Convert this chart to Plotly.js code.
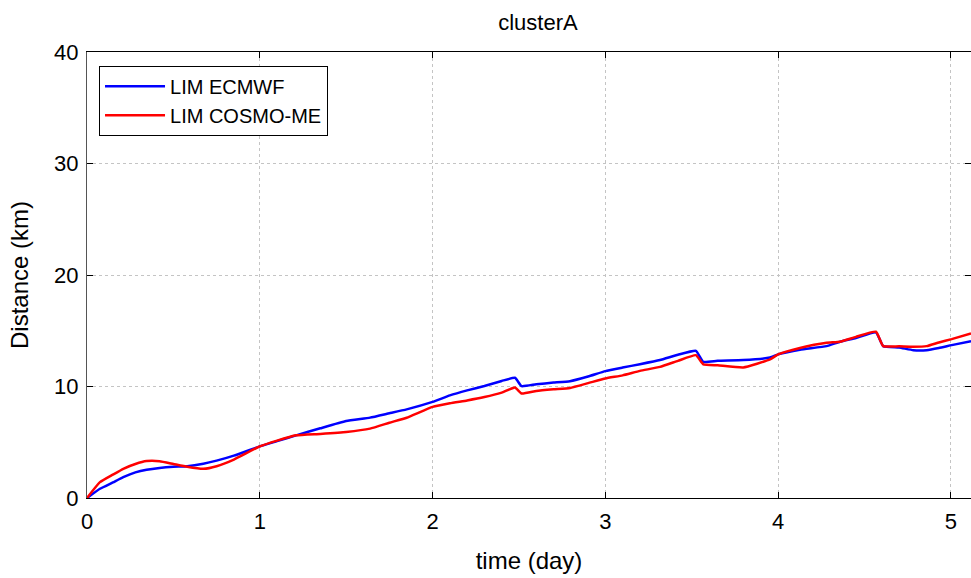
<!DOCTYPE html>
<html>
<head>
<meta charset="utf-8">
<script src="https://cdn.plot.ly/plotly-3.0.1.min.js"></script>
<style>html,body{margin:0;padding:0;background:#fff;}#chart{width:971px;height:578px;}</style>
</head>
<body>
<div id="chart"></div>
<script>
const timeDays = [0, 0.075, 0.15, 0.21, 0.28, 0.345, 0.42, 0.5, 0.58, 0.673, 0.75, 0.85, 1.0, 1.1, 1.21, 1.35, 1.5, 1.638, 1.75, 1.85, 2.0, 2.1, 2.2, 2.3, 2.4, 2.477, 2.515, 2.6, 2.7, 2.795, 2.9, 3.0, 3.1, 3.2, 3.316, 3.42, 3.524, 3.567, 3.65, 3.798, 3.953, 4.0, 4.126, 4.28, 4.358, 4.45, 4.566, 4.608, 4.7, 4.782, 4.859, 4.93, 5.004, 5.116];
const limEcmwf = [0, 0.83, 1.4, 1.87, 2.3, 2.54, 2.7, 2.8, 2.85, 3.07, 3.35, 3.8, 4.63, 5.1, 5.62, 6.25, 6.9, 7.21, 7.6, 7.95, 8.62, 9.2, 9.65, 10.05, 10.5, 10.78, 10.03, 10.2, 10.35, 10.48, 10.9, 11.38, 11.7, 12.0, 12.37, 12.85, 13.2, 12.21, 12.3, 12.37, 12.6, 12.88, 13.3, 13.62, 14.01, 14.35, 14.85, 13.62, 13.5, 13.26, 13.26, 13.45, 13.71, 14.07];
const limCosmoMe = [0, 1.42, 2.1, 2.62, 3.05, 3.31, 3.3, 3.05, 2.8, 2.62, 2.85, 3.45, 4.63, 5.15, 5.62, 5.75, 5.92, 6.22, 6.75, 7.2, 8.17, 8.5, 8.75, 9.05, 9.45, 9.91, 9.37, 9.6, 9.75, 9.87, 10.3, 10.72, 11.0, 11.4, 11.76, 12.3, 12.81, 11.98, 11.9, 11.71, 12.43, 12.88, 13.45, 13.92, 14.01, 14.45, 14.91, 13.62, 13.6, 13.56, 13.62, 13.95, 14.25, 14.76];
const seriesNames = ["LIM ECMWF", "LIM COSMO-ME"];
const xTicks = [0, 1, 2, 3, 4, 5];
const yTicks = [0, 10, 20, 30, 40];

const font = "Liberation Sans, Arial, sans-serif";
const traces = [
  {x: timeDays, y: limEcmwf, name: seriesNames[0], type: "scatter", mode: "lines", line: {color: "#0000ff", width: 2.5, shape: "spline", smoothing: 0.4}},
  {x: timeDays, y: limCosmoMe, name: seriesNames[1], type: "scatter", mode: "lines", line: {color: "#ff0000", width: 2.5, shape: "spline", smoothing: 0.4}}
];
const axisCommon = {
  showline: true, linecolor: "#000", linewidth: 1, mirror: "ticks",
  ticks: "inside", ticklen: 6, tickcolor: "#000", tickwidth: 1,
  showgrid: true, gridcolor: "#c4c4c4", griddash: "dot", gridwidth: 1,
  zeroline: false, tickfont: {family: font, size: 22, color: "#000"}
};
const layout = {
  width: 971, height: 578,
  margin: {l: 87, r: 0, t: 52, b: 80},
  paper_bgcolor: "#fff", plot_bgcolor: "#fff",
  title: {text: "clusterA", font: {family: font, size: 22, color: "#000"}, x: 0.554, xanchor: "center", y: 0.962, yanchor: "middle"},
  xaxis: Object.assign({}, axisCommon, {range: [0, 5.116], tickvals: xTicks, ticktext: xTicks.map(String), ticklabelstandoff: 4,
    title: {text: "time (day)", font: {family: font, size: 24, color: "#000"}, standoff: 18}}),
  yaxis: Object.assign({}, axisCommon, {range: [0, 40], tickvals: yTicks, ticktext: yTicks.map(String), ticklabelstandoff: 3,
    linecolor: "#555",
    title: {text: "Distance (km)", font: {family: font, size: 24, color: "#000"}, standoff: 18}}),
  showlegend: true,
  legend: {x: 0.0136, y: 0.969, xanchor: "left", yanchor: "top", bgcolor: "#fff", bordercolor: "#000", borderwidth: 1,
    font: {family: font, size: 20, color: "#000"}, tracegroupgap: 0, itemwidth: 60}
};
Plotly.newPlot("chart", traces, layout, {displayModeBar: false, staticPlot: true});
</script>
</body>
</html>
